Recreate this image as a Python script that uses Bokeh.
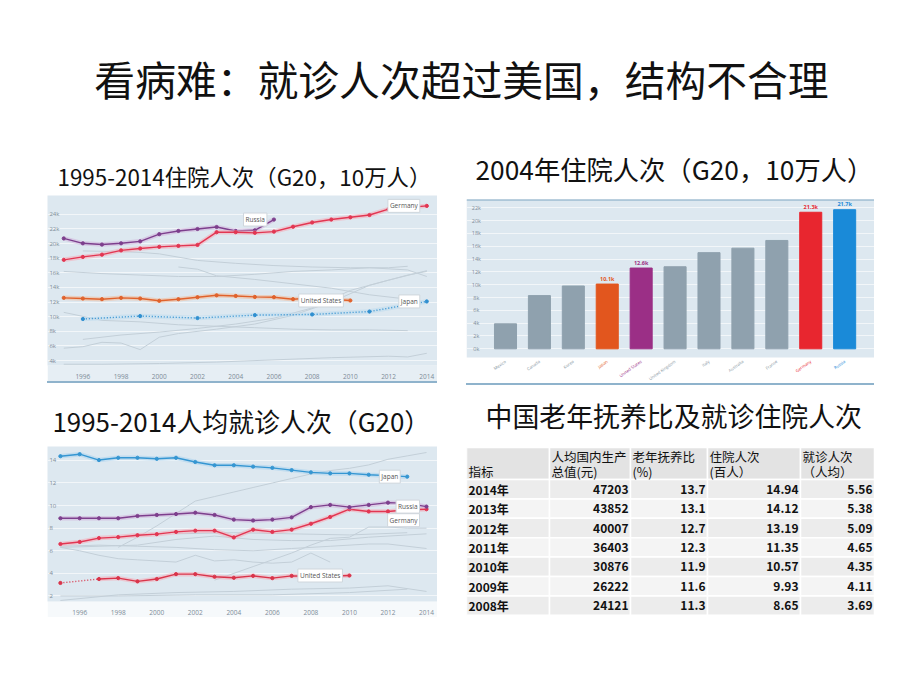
from bokeh.plotting import figure
from bokeh.layouts import column, row
from bokeh.models import Spacer, FixedTicker, Label, Span, Range1d
from bokeh.core.properties import value
from bokeh.embed import file_html
from bokeh.resources import INLINE

CJK = "Noto Sans CJK SC"
LAT = "Open Sans"

# ---------------- texts ----------------
main_title = "看病难：就诊人次超过美国，结构不合理"
sub1_text = "1995-2014住院人次（G20，10万人）"
sub2_text = "2004年住院人次（G20，10万人）"
sub3_text = "1995-2014人均就诊人次（G20）"
sub4_text = "中国老年抚养比及就诊住院人次"

# ---------------- chart 1 data (hospital admissions, k per 100k) ----------------
c1_yticks = [4, 6, 8, 10, 12, 14, 16, 18, 20, 22, 24]
c1_xticks = [1996, 1998, 2000, 2002, 2004, 2006, 2008, 2010, 2012, 2014]
germany1_years = list(range(1995, 2015))
germany1 = [17.78, 18.18, 18.49, 19.07, 19.33, 19.56, 19.69, 19.82, 21.56, 21.56,
            21.47, 21.64, 22.31, 22.89, 23.29, 23.6, 23.91, 24.71, 24.93, 25.16]
russia1_years = list(range(1995, 2007))
russia1 = [20.71, 20.04, 19.87, 20.04, 20.31, 21.29, 21.73, 22.0, 22.27, 21.73, 21.82, 23.29]
us1_years = list(range(1995, 2011))
us1 = [12.58, 12.49, 12.4, 12.58, 12.49, 12.18, 12.4, 12.67, 12.93, 12.84,
       12.71, 12.67, 12.4, 12.58, 12.4, 12.22]
japan1_years = [1996, 1999, 2002, 2005, 2008, 2011, 2014]
japan1 = [9.69, 10.09, 9.82, 10.22, 10.31, 10.71, 12.09]
other1_years = [
    [1996, 1998, 1999, 2000, 2002, 2004, 2006, 2008, 2010, 2012, 2013],
    [1995, 1997, 1999, 2001, 2003, 2005, 2007, 2009, 2011, 2013, 2014],
    [2001, 2002, 2003, 2005, 2007, 2009, 2011, 2013],
    [1995, 1997, 1999, 2001, 2003, 2005, 2007, 2009, 2011, 2013],
    [1995, 1996, 1997, 1998, 1999, 2000, 2001, 2003, 2005, 2007, 2009, 2011, 2012, 2013, 2014],
    [1996, 1998, 2000, 2002, 2004, 2006, 2008, 2009, 2010, 2012, 2014],
    [1995, 1997, 2000, 2003, 2006, 2009, 2012, 2013, 2014],
]
other1_vals = [
    [19.0, 18.9, 18.8, 18.6, 17.7, 17.3, 17.0, 16.8, 16.7, 16.7, 16.9],
    [16.2, 15.9, 15.7, 15.5, 15.5, 15.8, 16.2, 16.4, 16.7, 16.4, 15.5],
    [16.8, 16.5, 15.6, 15.1, 14.5, 13.9, 13.0, 12.4],
    [10.6, 9.5, 9.3, 8.9, 8.7, 8.5, 8.3, 8.2, 8.2, 8.1],
    [5.7, 5.9, 6.5, 6.4, 5.5, 7.2, 7.7, 8.3, 9.0, 10.2, 12.0, 14.3, 15.0, 15.7, 16.2],
    [6.9, 7.5, 7.9, 8.4, 9.0, 9.8, 11.2, 12.4, 13.6, 15.0, 16.3],
    [3.5, 3.5, 3.6, 3.8, 4.1, 4.4, 4.6, 4.5, 5.0],
]

# ---------------- chart 2 data (2004) ----------------
countries = ["Mexico", "Canada", "Korea", "Japan", "United States", "United Kingdom",
             "Italy", "Australia", "France", "Germany", "Russia"]
hosp2004 = [3.9, 8.3, 9.8, 10.1, 12.6, 12.8, 15.0, 15.7, 16.9, 21.3, 21.7]
c2_yticks = [0, 2, 4, 6, 8, 10, 12, 14, 16, 18, 20, 22]

# ---------------- chart 3 data (doctor consultations per capita) ----------------
c3_yticks = [2, 4, 6, 8, 10, 12, 14]
c3_xticks = [1996, 1998, 2000, 2002, 2004, 2006, 2008, 2010, 2012, 2014]
japan3_years = list(range(1995, 2014))
japan3 = [14.37, 14.55, 14.03, 14.23, 14.23, 14.14, 14.23, 13.86, 13.57, 13.57,
          13.45, 13.34, 13.14, 12.94, 12.85, 12.85, 12.73, 12.65, 12.56]
russia3_years = list(range(1995, 2015))
russia3 = [8.88, 8.88, 8.88, 8.88, 9.08, 9.17, 9.25, 9.37, 9.17, 8.76,
           8.68, 8.76, 8.96, 9.86, 10.06, 9.86, 10.06, 10.26, 10.2, 9.91]
germany3_years = list(range(1995, 2015))
germany3 = [6.6, 6.78, 7.12, 7.21, 7.38, 7.47, 7.67, 7.78, 7.78, 7.18,
            7.87, 7.67, 7.87, 8.39, 8.99, 9.68, 9.48, 9.48, 9.63, 9.68]
us3_years = [1995, 1997, 1998, 1999, 2000, 2001, 2002, 2003, 2004, 2005, 2006, 2007, 2008, 2009, 2010]
us3 = [3.15, 3.5, 3.58, 3.29, 3.5, 3.93, 3.93, 3.7, 3.61, 3.78, 3.58, 3.78, 3.75, 3.75, 3.81]
other3_years = [
    [1998, 1999, 2000, 2001, 2002, 2003, 2004, 2005, 2006, 2007, 2008, 2009, 2010, 2011, 2012, 2013, 2014],
    [2003, 2004, 2005, 2006, 2007, 2008, 2009, 2010, 2011, 2012, 2013, 2014],
    [1995, 1997, 1999, 2001, 2003, 2005, 2007, 2009, 2011, 2013, 2014],
    [1995, 1996, 1997, 1998, 1999, 2000, 2001, 2002, 2003, 2004, 2005, 2006, 2007, 2008, 2009],
    [1995, 1997, 1999, 2001, 2003, 2005, 2007, 2009, 2011, 2012, 2014],
    [1995, 1998, 2001, 2004, 2007, 2010, 2012, 2014],
    [1995, 1998, 2002, 2006, 2010, 2013],
    [2001, 2004, 2007, 2010, 2013],
]
other3_vals = [
    [6.3, 7.2, 8.2, 9.3, 10.4, 10.8, 11.2, 11.6, 12.0, 12.4, 12.8, 13.1, 13.3, 13.6, 14.1, 14.4, 14.7],
    [3.4, 4.0, 4.6, 5.2, 5.8, 6.5, 7.1, 7.2, 8.1, 8.1, 8.0, 8.0],
    [6.3, 6.4, 6.5, 7.0, 7.3, 7.0, 6.9, 6.9, 7.2, 7.4, 7.5],
    [6.3, 6.0, 5.6, 5.3, 5.2, 5.1, 5.0, 5.6, 5.1, 5.2, 5.0, 4.9, 5.0, 5.8, 5.0],
    [6.4, 6.5, 6.4, 6.3, 6.1, 6.0, 6.2, 6.4, 6.6, 6.6, 6.2],
    [1.6, 2.1, 2.3, 2.4, 2.6, 2.7, 2.9, 2.4],
    [2.0, 2.0, 2.1, 2.1, 2.3, 2.6],
    [7.5, 7.6, 7.5, 7.4, 7.6],
]

# ---------------- table data ----------------
tbl_header_1 = ["", "人均国内生产", "老年抚养比", "住院人次", "就诊人次"]
tbl_header_2 = ["指标", "总值(元)", "(%)", "(百人）", "（人均）"]
tbl_years = ["2014年", "2013年", "2012年", "2011年", "2010年", "2009年", "2008年"]
tbl_gdp = [47203, 43852, 40007, 36403, 30876, 26222, 24121]
tbl_dep = [13.7, 13.1, 12.7, 12.3, 11.9, 11.6, 11.3]
tbl_hosp = [14.94, 14.12, 13.19, 11.35, 10.57, 9.93, 8.65]
tbl_visit = [5.56, 5.38, 5.09, 4.65, 4.35, 4.11, 3.69]

# ---------------- styles ----------------
BG = "#dde8f0"
GRAY_LINE = "#c3cfd8"
TICK_COL = "#7d8c98"
C_RUSSIA = "#7d3f8d"
C_GERMANY = "#e23652"
C_US1 = "#e0622c"
C_JAPAN = "#2f8fd0"
bar_highlight = {"Japan": "#e2561e", "United States": "#9b2f86",
                 "Germany": "#e8262f", "Russia": "#1a8ad8"}
BAR_GRAY = "#8fa1ae"
RULE = "#8fb3cc"


def base_fig(w, h, xr, yr, **kw):
    p = figure(width=w, height=h, x_range=Range1d(*xr), y_range=Range1d(*yr),
               output_backend="svg", toolbar_location=None, **kw)
    return p


def text_fig(w, h, txt, x, y, size, align="left"):
    p = base_fig(w, h, (0, w), (h, 0), min_border=0)
    p.axis.visible = False
    p.grid.visible = False
    p.outline_line_color = None
    p.background_fill_color = "white"
    p.border_fill_color = "white"
    p.text(x=[x], y=[y], text=[txt], text_font=value(CJK), text_font_size=f"{size}px",
           text_align=align, text_baseline="middle", text_color="#111111")
    return p


def line_chart(w, h, xr, yr, yticks, ylab_fmt, xticks, bottom, border):
    p = base_fig(w, h, xr, yr, min_border_left=0, min_border_right=0,
                 min_border_top=0, min_border_bottom=bottom)
    p.background_fill_color = BG
    p.border_fill_color = border
    p.outline_line_color = None
    p.yaxis.visible = False
    p.ygrid.ticker = FixedTicker(ticks=yticks)
    p.ygrid.grid_line_color = "#f2f6f9"
    p.ygrid.grid_line_width = 1
    p.xgrid.visible = False
    p.xaxis.ticker = FixedTicker(ticks=xticks)
    p.xaxis.axis_line_color = None
    p.xaxis.major_tick_line_color = None
    p.xaxis.minor_tick_line_color = None
    p.xaxis.major_label_text_font_size = "6.5px"
    p.xaxis.major_label_text_color = TICK_COL
    p.xaxis.major_label_text_font = LAT
    p.xaxis.major_label_standoff = 2
    p.text(x=[xr[0] + 0.1] * len(yticks), y=yticks, text=[ylab_fmt(t) for t in yticks],
           text_font=value(LAT), text_font_size="6px", text_color=TICK_COL,
           text_align="left", text_baseline="middle")
    return p


def series(p, xs, ys, color, halo, dash="solid", marker_size=3.2):
    p.line(xs, ys, line_color=halo, line_width=4.5, line_alpha=0.55)
    p.line(xs, ys, line_color=color, line_width=1.4, line_dash=dash)
    p.scatter(xs, ys, size=marker_size, color=color)


def tag(p, x, y, text, dy=0):
    p.add_layout(Label(x=x, y=y, text=text, x_offset=-7, y_offset=dy, text_align="right",
                       text_baseline="middle", text_font=LAT, text_font_size="6.5px",
                       text_color="#555555", background_fill_color="white",
                       background_fill_alpha=1.0, border_line_color="#cfd6dc",
                       padding=2))


# ---------------- header ----------------
header = text_fig(912, 140, main_title, 461, 78, 40.8, align="center")

# ---------------- chart 1 ----------------
c1 = line_chart(390, 186, (1994.15, 2014.56), (3.33, 26.58), c1_yticks,
                lambda t: f"{t}k", c1_xticks, 13, "#e6eef4")
c1.multi_line(other1_years, other1_vals, line_color=GRAY_LINE, line_width=1)
series(c1, us1_years, us1, C_US1, "#f2b896")
series(c1, japan1_years, japan1, C_JAPAN, "#bcdaef", dash="1 2")
series(c1, russia1_years, russia1, C_RUSSIA, "#cfb1da")
series(c1, germany1_years, germany1, C_GERMANY, "#f6a9b7")
tag(c1, germany1_years[-1], germany1[-1], "Germany")
tag(c1, russia1_years[-1], russia1[-1], "Russia")
tag(c1, us1_years[-1], us1[-1], "United States")
tag(c1, japan1_years[-1], japan1[-1], "Japan")

# ---------------- chart 3 ----------------
c3 = line_chart(390, 171, (1994.33, 2014.57), (1.51, 15.23), c3_yticks,
                lambda t: f"{t}", c3_xticks, 12, "#f6f9fb")
c3.multi_line(other3_years, other3_vals, line_color=GRAY_LINE, line_width=1)
c3.line(us3_years[:2], us3[:2], line_color="#d9344a", line_width=1.4, line_dash="1 2")
c3.line(us3_years[1:], us3[1:], line_color="#f6a9b7", line_width=4.5, line_alpha=0.55)
c3.line(us3_years[1:], us3[1:], line_color="#d9344a", line_width=1.4)
c3.scatter(us3_years, us3, size=3.2, color="#d9344a")
series(c3, germany3_years, germany3, C_GERMANY, "#f6a9b7")
series(c3, russia3_years, russia3, C_RUSSIA, "#cfb1da")
series(c3, japan3_years, japan3, "#3596d2", "#a8d2ef")
tag(c3, japan3_years[-1], japan3[-1], "Japan")
tag(c3, russia3_years[-1], russia3[-1], "Russia")
tag(c3, germany3_years[-1], germany3[-1], "Germany", dy=-11)
tag(c3, us3_years[-1], us3[-1], "United States")

# ---------------- chart 2 (bars) ----------------
xs2 = list(range(len(countries)))
xr2 = (-1.15, 10.88)
c2_top = 23.29
c2_floor = -1.36     # bottom of the blue plotting panel
c2_bottom = -5.41    # bottom of the figure (label strip below the panel)
c2 = base_fig(408, 184, xr2, (c2_bottom, c2_top), min_border=0)
c2.background_fill_color = "white"
c2.border_fill_color = "white"
c2.outline_line_color = None
c2.axis.visible = False
c2.xgrid.visible = False
c2.ygrid.ticker = FixedTicker(ticks=c2_yticks)
c2.ygrid.grid_line_color = "#f2f6f9"
c2.quad(left=[xr2[0]], right=[xr2[1]], bottom=[c2_floor], top=[c2_top],
        fill_color=BG, line_color=None, level="image")
bar_cols = [bar_highlight.get(c, BAR_GRAY) for c in countries]
lab_cols = [bar_highlight.get(c, "#8796a2") for c in countries]
c2.vbar(x=xs2, top=hosp2004, width=0.65, color=bar_cols)
hl_idx = [i for i, c in enumerate(countries) if c in bar_highlight]
c2.text(x=[xs2[i] for i in hl_idx], y=[hosp2004[i] for i in hl_idx],
        text=[f"{hosp2004[i]:.1f}k" for i in hl_idx], y_offset=-1.5,
        text_color=[bar_cols[i] for i in hl_idx], text_font=value(LAT),
        text_font_size="5.5px", text_font_style="bold", text_align="center",
        text_baseline="bottom")
c2.text(x=[-0.86] * len(c2_yticks), y=c2_yticks, text=[f"{t}k" for t in c2_yticks],
        text_font=value(LAT), text_font_size="5.5px", text_color=TICK_COL,
        text_align="center", text_baseline="middle")
c2.text(x=xs2, y=[c2_floor] * len(xs2), text=countries, y_offset=3.5, angle=0.62,
        text_font=value(LAT), text_font_size="4.2px", text_color=lab_cols,
        text_align="right", text_baseline="middle")
c2.add_layout(Span(location=c2_top, dimension="width", line_color="#7fa6c2", line_width=2))

# ---------------- table ----------------
TW, TH = 408, 170
col_edges = [0, 83, 164, 241, 334, 408]
head_h = 32
row_h = 19.4
tb = base_fig(TW, TH, (0, TW), (TH - 1, -1), min_border=0)
tb.axis.visible = False
tb.grid.visible = False
tb.outline_line_color = None
tb.background_fill_color = "white"
tb.border_fill_color = "white"
tb.quad(left=col_edges[:-1], right=col_edges[1:], top=[0] * 5, bottom=[head_h] * 5,
        fill_color="#e3e3e3", line_color="white", line_width=1.5)
nrows = len(tbl_years)
lefts, rights, tops, bots, fills = [], [], [], [], []
for r in range(nrows):
    for c in range(5):
        lefts.append(col_edges[c]); rights.append(col_edges[c + 1])
        tops.append(head_h + r * row_h); bots.append(head_h + (r + 1) * row_h)
        fills.append("#ececec" if r % 2 == 0 else "#f4f4f4")
tb.quad(left=lefts, right=rights, top=tops, bottom=bots, fill_color=fills,
        line_color="white", line_width=1.5)
tb.text(x=[e + 2 for e in col_edges[:-1]], y=[9] * 5, text=tbl_header_1,
        text_font=value(CJK), text_font_size="12.5px", text_align="left",
        text_baseline="middle", text_color="#111111")
tb.text(x=[e + 2 for e in col_edges[:-1]], y=[24] * 5, text=tbl_header_2,
        text_font=value(CJK), text_font_size="12.5px", text_align="left",
        text_baseline="middle", text_color="#111111")
ys_rows = [head_h + (r + 0.5) * row_h for r in range(nrows)]
body_cols = [
    [f"{v}" for v in tbl_gdp],
    [f"{v:.1f}" for v in tbl_dep],
    [f"{v:.2f}" for v in tbl_hosp],
    [f"{v:.2f}" for v in tbl_visit],
]
tb.text(x=[2] * nrows, y=ys_rows, text=tbl_years, text_font=value(CJK),
        text_font_size="12px", text_font_style="bold", text_align="left",
        text_baseline="middle", text_color="#111111")
for ci, vals in enumerate(body_cols):
    tb.text(x=[col_edges[ci + 2] - 2] * nrows, y=ys_rows, text=vals, text_font=value(CJK),
            text_font_size="12px", text_font_style="bold", text_align="right",
            text_baseline="middle", text_color="#111111")

# ---------------- layout ----------------
sub1 = text_fig(448, 55, sub1_text, 49, 35, 22.4)
sub3 = text_fig(448, 63, sub3_text, 44, 37, 25.9)
sub2 = text_fig(456, 59, sub2_text, 19, 28, 26.3)
sub4 = text_fig(456, 61, sub4_text, 29, 30, 26.9)

rule1 = Spacer(width=390, height=2, styles={"background-color": RULE})
rule2 = Spacer(width=408, height=2, styles={"background-color": RULE})

left = column(sub1, row(Spacer(width=39, height=186), c1),
              row(Spacer(width=39, height=2), rule1), sub3,
              row(Spacer(width=39, height=171), c3))
right = column(sub2, row(Spacer(width=10, height=184), c2),
               row(Spacer(width=10, height=2), rule2), sub4,
               row(Spacer(width=10, height=170), tb))
page = column(header, row(Spacer(width=8, height=470), left, right))

open("out.html", "w").write(file_html(page, INLINE))
